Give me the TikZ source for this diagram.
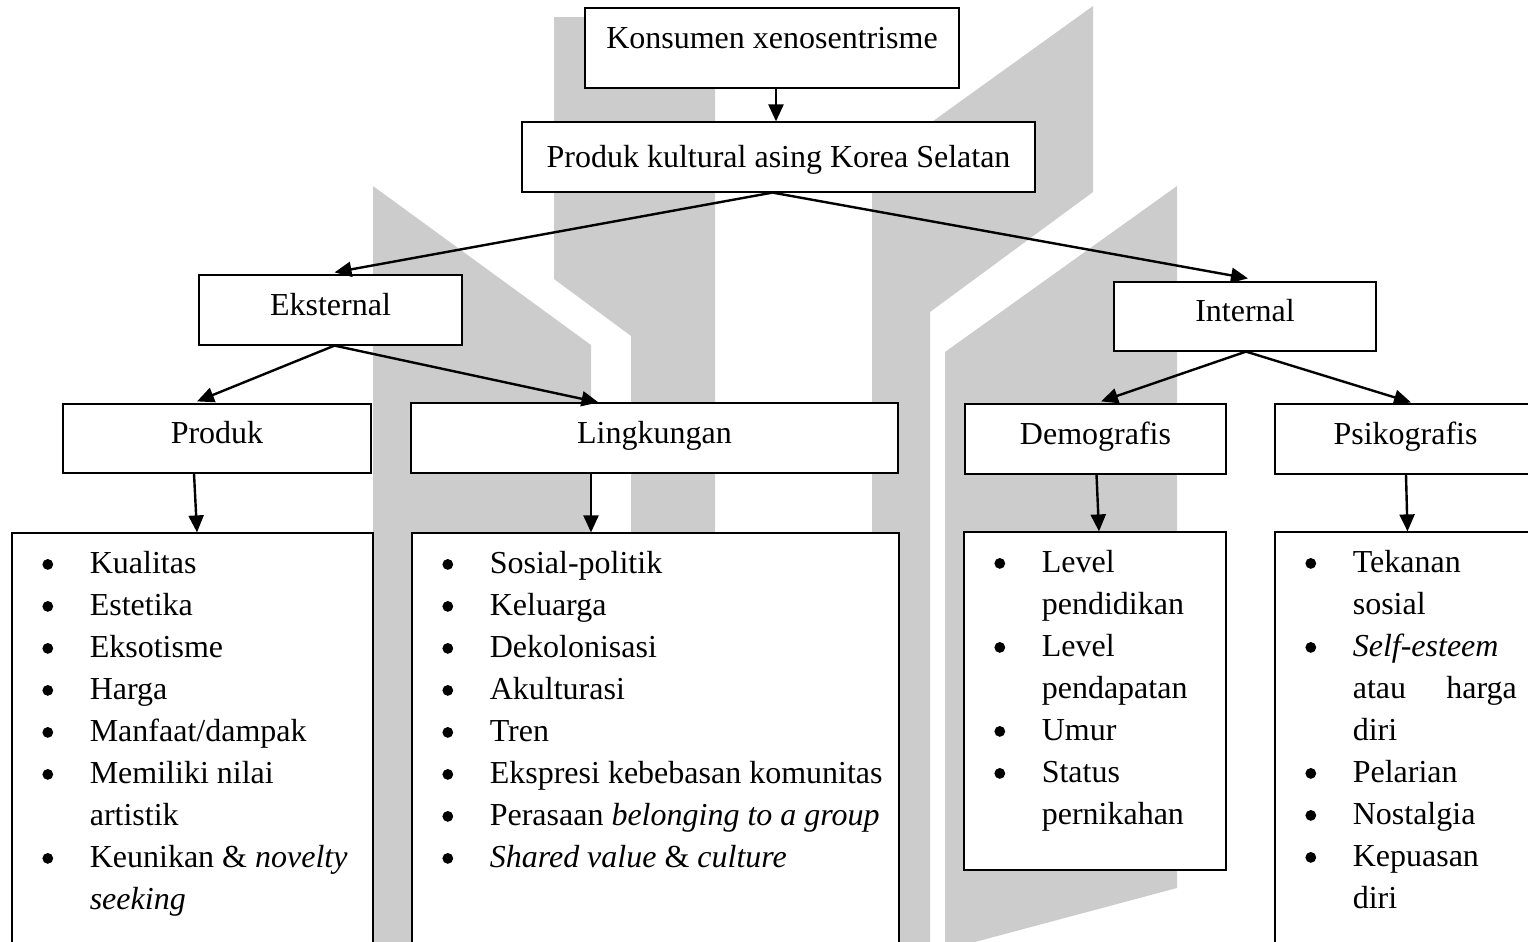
\documentclass[tikz,border=0pt]{standalone}
\usepackage{fontspec}
\setmainfont{Liberation Serif}
\usetikzlibrary{arrows.meta}

\definecolor{markgray}{HTML}{CCCCCC}

\tikzset{
  box/.style={draw,line width=0.6pt,fill=white,inner sep=0pt,
    font=\fontsize{16pt}{21pt}\selectfont,text height=10.5pt,text depth=5.5pt},
  listbox/.style={draw,line width=0.6pt,fill=white,inner sep=0pt},
  items/.style={anchor=north west,inner sep=0pt,align=left,
    font=\fontsize{16pt}{21pt}\selectfont},
  link/.style={line width=1.2pt,-{Triangle[length=8.5pt,width=7.5pt]}},
  wmark/.style={fill=markgray,draw=none}
}
\newcommand{\bdot}{\tikz[baseline=0pt]\fill (0pt,4.7pt) circle (2.7pt);}
\newcommand{\bitem}{\makebox[12pt]{\bdot}\hspace*{15pt}}
\newcommand{\bfirst}{\rule{0pt}{20.5pt}\bitem}
\newcommand{\bcont}{\hspace*{27pt}}

\begin{document}
\begin{tikzpicture}[x=0.5pt,y=0.5pt]
\useasboundingbox (0,0) rectangle (1528,-942);

% watermark in the background
\fill[wmark] (373,-186) -- (591,-345) -- (591,-942) -- (373,-942) -- cycle;
\fill[wmark] (554,-17) -- (715,-17) -- (715,-942) -- (631,-942) -- (631,-336) -- (554,-279) -- cycle;
\fill[wmark] (872,-165) -- (1093,-6) -- (1093,-192) -- (930,-312) -- (930,-942) -- (872,-942) -- cycle;
\fill[wmark] (945,-352) -- (1177,-186) -- (1177,-888) -- (945,-950) -- cycle;

% top levels
\node[box,minimum width=187pt,minimum height=40pt,text depth=10.5pt] (kons) at (772,-48) {Konsumen xenosentrisme};
\node[box,minimum width=256.5pt,minimum height=35pt,text depth=0pt] (prodk) at (778.5,-157) {Produk kultural asing Korea Selatan};
\node[box,minimum width=131.5pt,minimum height=35pt] (eks) at (330.5,-310) {Eksternal};
\node[box,minimum width=131pt,minimum height=34.5pt] (int) at (1245,-316.5) {Internal};

% factors
\node[box,minimum width=154pt,minimum height=34.5pt] (produk) at (217,-438.5) {Produk};
\node[box,minimum width=243.5pt,minimum height=35pt] (lingk) at (654.5,-438) {Lingkungan};
\node[box,minimum width=130.5pt,minimum height=35pt] (demo) at (1095.5,-439) {Demografis};
\node[box,minimum width=130.5pt,minimum height=35pt] (psiko) at (1405.5,-439) {Psikografis};

% lists
\node[listbox,minimum width=180.5pt,minimum height=213.5pt] (plist) at (192.5,-746.5) {};
\node[listbox,minimum width=243.5pt,minimum height=213.5pt] (llist) at (655.5,-746.5) {};
\node[listbox,minimum width=131pt,minimum height=169pt] (dlist) at (1095,-701) {};
\node[listbox,minimum width=130.5pt,minimum height=214pt] (slist) at (1405.5,-746) {};

\node[items] (pitems) at ([xshift=12pt]plist.north west) {%
\bfirst Kualitas\\
\bitem Estetika\\
\bitem Eksotisme\\
\bitem Harga\\
\bitem Manfaat/dampak\\
\bitem Memiliki nilai\\
\bcont artistik\\
\bitem Keunikan \& \textit{novelty}\\
\bcont \textit{seeking}};
\node[items] (litems) at ([xshift=12pt]llist.north west) {%
\bfirst Sosial-politik\\
\bitem Keluarga\\
\bitem Dekolonisasi\\
\bitem Akulturasi\\
\bitem Tren\\
\bitem Ekspresi kebebasan komunitas\\
\bitem Perasaan \textit{belonging to a group}\\
\bitem \textit{Shared value} \& \textit{culture}};
\node[items] (ditems) at ([xshift=12pt]dlist.north west) {%
\bfirst Level\\
\bcont pendidikan\\
\bitem Level\\
\bcont pendapatan\\
\bitem Umur\\
\bitem Status\\
\bcont pernikahan};
\node[items] (sitems) at ([xshift=12pt]slist.north west) {%
\bfirst Tekanan\\
\bcont sosial\\
\bitem \textit{Self-esteem}\\
\bcont \makebox[82pt][s]{atau\hfill harga}\\
\bcont diri\\
\bitem Pelarian\\
\bitem Nostalgia\\
\bitem Kepuasan\\
\bcont diri};

% arrows
\draw[link] ([xshift=2pt]kons.south) -- ([xshift=2pt]kons.south |- prodk.north);
\draw[link] ([xshift=-3pt]prodk.south) -- ([xshift=2pt,yshift=1pt]eks.north);
\draw[link] ([xshift=-3pt]prodk.south) -- ([xshift=1.5pt,yshift=1.5pt]int.north);
\draw[link] ([xshift=2pt]eks.south) -- ([xshift=-10pt,yshift=1pt]produk.north);
\draw[link] ([xshift=2pt]eks.south) -- ([xshift=-28pt]lingk.north);
\draw[link] ([xshift=0.5pt]int.south) -- ([xshift=2.75pt,yshift=1pt]demo.north);
\draw[link] ([xshift=0.5pt]int.south) -- ([xshift=2.75pt,yshift=0.5pt]psiko.north);
\draw[link] ([xshift=-11.5pt]produk.south) -- ([xshift=2.25pt]plist.north);
\draw[link] ([xshift=-31.75pt]lingk.south) -- ([xshift=-32.25pt]llist.north);
\draw[link] ([xshift=0.5pt]demo.south) -- ([xshift=2pt]dlist.north);
\draw[link] ([xshift=0.25pt]psiko.south) -- ([xshift=1pt]slist.north);
\end{tikzpicture}
\end{document}
